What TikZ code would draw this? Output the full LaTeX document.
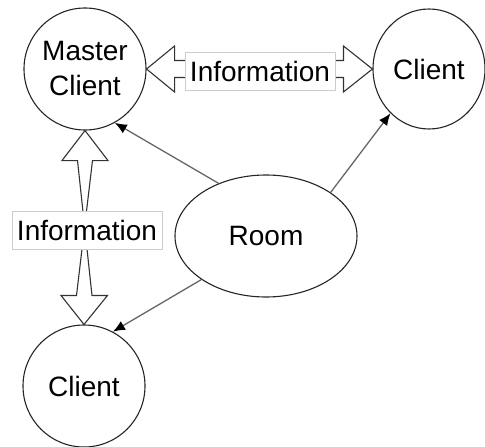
\documentclass[tikz,border=0pt]{standalone}
\usepackage{fontspec}
\setmainfont{Liberation Sans}
\usetikzlibrary{shapes.geometric,arrows.meta,calc}

\tikzset{
  peer/.style={circle, draw=black!85, line width=1.1pt, fill=white,
    minimum size=122pt, inner sep=0pt, align=center,
    font=\fontsize{28}{35}\selectfont},
  hub/.style={ellipse, draw=black!85, line width=1.1pt, fill=white,
    minimum width=182pt, minimum height=122pt, inner sep=0pt,
    font=\fontsize{28}{35}\selectfont},
  link/.style={draw=black!60, line width=1.3pt,
    -{Latex[length=12pt,width=10pt,color=black]}},
  blockarrow/.style={draw=black!80, line width=1.1pt, fill=white,
    line join=miter},
  infotag/.style={draw=black!20, line width=0.8pt, fill=white,
    minimum width=150pt, minimum height=38pt, inner sep=1pt,
    font=\fontsize{28}{35}\selectfont}
}

\begin{document}
\begin{tikzpicture}[x=1pt, y=-1pt]
  \useasboundingbox (0,0) rectangle (485,447);

  % participants
  \node[peer] (mc) at (85,69) {Master\\Client};
  \node[ellipse, draw=black!85, line width=1.1pt, fill=white,
        minimum width=112pt, minimum height=120pt, inner sep=0pt,
        font=\fontsize{28}{35}\selectfont] (cr) at (429,69) {Client};
  \node[peer] (cb) at (84,386) {Client};
  \node[hub] (room) at (266,236) {Room};

  % horizontal information exchange
  \draw[blockarrow] (mc.east) -- ++(28,-23) -- ++(0,14.5)
    -- ($(cr.west)+(-29,-8.5)$) -- ++(0,-14.5) -- (cr.west)
    -- ++(-29,23) -- ++(0,-14.5)
    -- ($(mc.east)+(28,8.5)$) -- ++(0,14.5) -- cycle;
  \node[infotag] (infoh) at (260,71) {Information};

  % vertical information exchange
  \draw[blockarrow] (mc.south) -- ++(-23,30) -- ++(15.5,0)
    -- ($(cb.north)+(8,-29)$) -- ++(15.5,0) -- (cb.north)
    -- ++(-23,-29) -- ++(15.5,0)
    -- ($(mc.south)+(7.5,30)$) -- ++(15.5,0) -- cycle;
  \node[infotag] (infov) at (87,230) {Information};

  % room connections
  \draw[link] (room.132) -- (mc.-61);
  \draw[link] (room.34) -- (cr.229);
  \draw[link] (room.214) -- (cb.62);
\end{tikzpicture}
\end{document}
